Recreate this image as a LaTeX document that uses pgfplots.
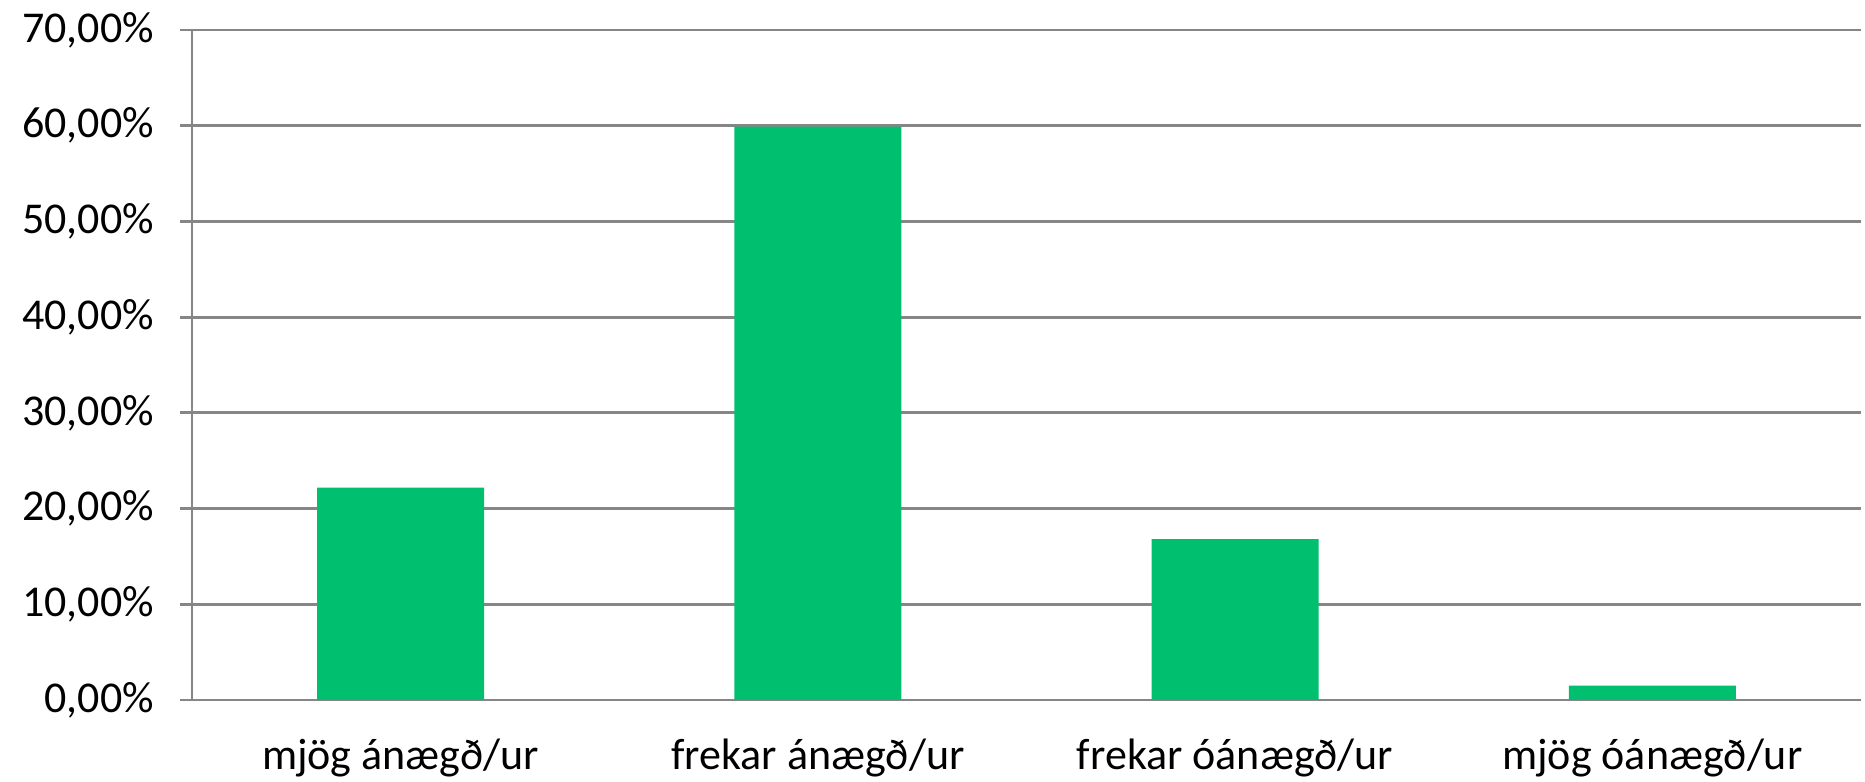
\documentclass[border=0pt]{standalone}
\usepackage{fontspec}
\setmainfont{Carlito}
\usepackage{pgfplots}
\pgfplotsset{compat=1.18}
\definecolor{barGreen}{RGB}{0,191,111}
\definecolor{gridGray}{RGB}{134,134,134}
\begin{document}
\begin{tikzpicture}[x=0.5pt,y=0.5pt]
\begin{axis}[
    scale only axis,
    width=834.5pt, height=335pt,
    xmin=0.5, xmax=4.5,
    ymin=0, ymax=70,
    axis x line*=bottom,
    axis y line*=left,
    axis line style={gridGray, line width=1.4pt, -},
    ytick={0,10,...,70},
    ymajorgrids,
    major grid style={gridGray, line width=1.4pt},
    xtick={1,2,3,4},
    xticklabels={mjög ánægð/ur, frekar ánægð/ur, frekar óánægð/ur, mjög óánægð/ur},
    minor xtick={0.5,1.5,2.5,3.5,4.5},
    tick align=outside,
    major tick length=6pt,
    minor tick length=6.5pt,
    xtick style={draw=none},
    minor x tick style={gridGray, line width=1.4pt},
    ytick style={gridGray, line width=1.4pt},
    tick label style={font=\fontsize{22}{26}\selectfont, black},
    /pgf/number format/assume math mode=true,
    yticklabel={\pgfmathprintnumber[fixed, fixed zerofill, precision=2, use comma]{\tick}\%},
    yticklabel style={xshift=-9.5pt},
    xticklabel style={yshift=-10pt},
    clip=false,
]
\addplot[ybar, bar width=0.4, fill=barGreen, draw=none] coordinates {
    (1,22.2) (2,59.9) (3,16.8) (4,1.5)
};
\end{axis}
\pgfresetboundingbox
\path ([xshift=-96pt, yshift=-41pt]current axis.south west) rectangle ([xshift=2pt, yshift=15pt]current axis.north east);
\end{tikzpicture}
\end{document}
